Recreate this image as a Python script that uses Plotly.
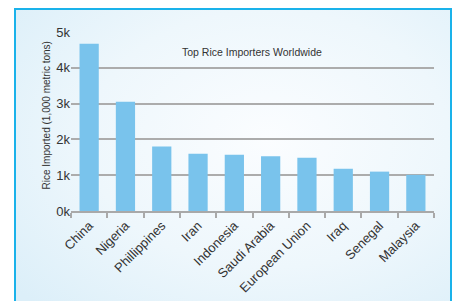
import base64
import plotly.graph_objects as go

countries = ["China", "Nigeria", "Phillippines", "Iran", "Indonesia", "Saudi Arabia",
             "European Union", "Iraq", "Senegal", "Malaysia"]
imports_kt = [4670, 3050, 1800, 1600, 1570, 1530, 1490, 1180, 1100, 1010]
y_tick_vals = [0, 1000, 2000, 3000, 4000, 5000]
y_tick_text = ["0k", "1k", "2k", "3k", "4k", "5k"]

W, H = 456, 301
L, R, T, B = 71, 22, 32, 90
PW, PH = W - L - R, H - T - B

def px_x(p):
    return (p - L) / PW

def px_y(p):
    return (H - B - p) / PH

FONT = "Liberation Sans, Arial, sans-serif"

svg = """<svg xmlns='http://www.w3.org/2000/svg' width='440' height='300' preserveAspectRatio='none'>
<defs><radialGradient id='g' cx='0.58' cy='0.42' r='0.75'>
<stop offset='0' stop-color='#fbfdff'/><stop offset='0.55' stop-color='#eef7fc'/>
<stop offset='1' stop-color='#dceff9'/></radialGradient></defs>
<rect width='440' height='300' fill='url(#g)'/></svg>"""
src = "data:image/svg+xml;base64," + base64.b64encode(svg.encode()).decode()

fig = go.Figure()
fig.add_trace(go.Bar(x=countries, y=imports_kt, marker_color="#79c3ec",
                     marker_line_width=0))

fig.update_layout(
    width=W, height=H,
    margin=dict(l=L, r=R, t=T, b=B, autoexpand=False),
    paper_bgcolor="white", plot_bgcolor="rgba(0,0,0,0)",
    bargap=0.47, showlegend=False,
    font=dict(family=FONT, color="#333333"),
    xaxis=dict(tickangle=-45, tickfont=dict(size=13, family=FONT, color="#333"),
               showline=True, linecolor="#a9a9a9", linewidth=2,
               ticks="outside", tickson="boundaries", ticklen=5, tickwidth=2,
               tickcolor="#a9a9a9", showgrid=False, automargin=False),
    yaxis=dict(range=[0, 5000], tickvals=y_tick_vals, ticktext=y_tick_text,
               tickfont=dict(size=13, family=FONT, color="#333"),
               showgrid=True, gridcolor="#acacac", gridwidth=1.6,
               zeroline=False, showline=False, ticks="", automargin=False),
    images=[dict(source=src, xref="paper", yref="paper", x=px_x(15), y=px_y(8),
                 sizex=px_x(451) - px_x(15), sizey=px_y(8) - px_y(320),
                 xanchor="left", yanchor="top", sizing="stretch", layer="below")],
    shapes=[dict(type="rect", xref="paper", yref="paper", x0=px_x(15), x1=px_x(451),
                 y0=px_y(320), y1=px_y(9), line=dict(color="#1ab2ea", width=2),
                 fillcolor="rgba(0,0,0,0)", layer="above")],
    annotations=[
        dict(text="Top Rice Importers Worldwide", xref="paper", yref="paper",
             x=px_x(252), y=px_y(44), showarrow=False,
             font=dict(size=10.5, family=FONT, color="#333")),
        dict(text="Rice Imported (1,000 metric tons)", xref="paper", yref="paper",
             x=px_x(39), y=px_y(116), showarrow=False, textangle=-90,
             font=dict(size=10, family=FONT, color="#333")),
    ],
)

fig.write_html("out.html", config={"displayModeBar": False},
               post_script="document.body.style.margin='0';")
